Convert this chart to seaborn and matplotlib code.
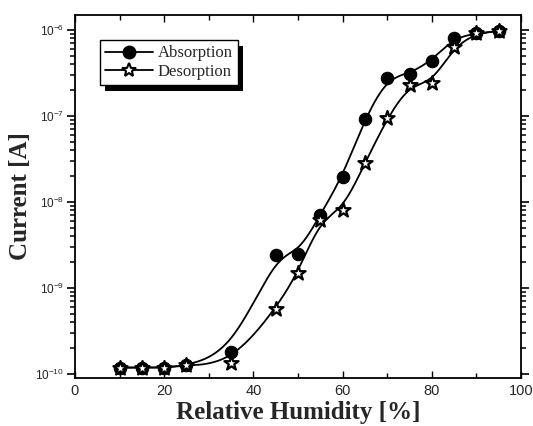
import numpy as np
import matplotlib
matplotlib.use("Agg")
import matplotlib.pyplot as plt
from matplotlib.lines import Line2D
from matplotlib.patches import Rectangle
from matplotlib.transforms import IdentityTransform
from matplotlib.ticker import FixedLocator, NullFormatter, MultipleLocator
import seaborn as sns
import pandas as pd

# Relative humidity steps [%]
humidity = [10, 15, 20, 25, 35, 45, 50, 55, 60, 65, 70, 75, 80, 85, 90, 95]
# Measured current [A]
absorption = [1.18e-10, 1.18e-10, 1.18e-10, 1.25e-10, 1.8e-10, 2.4e-9, 2.5e-9, 7.1e-9,
              1.97e-8, 9.3e-8, 2.75e-7, 3.1e-7, 4.4e-7, 8.1e-7, 9.1e-7, 9.7e-7]
desorption = [1.18e-10, 1.18e-10, 1.18e-10, 1.25e-10, 1.33e-10, 5.7e-10, 1.5e-9, 6.2e-9,
              8.1e-9, 2.8e-8, 9.4e-8, 2.3e-7, 2.4e-7, 6.4e-7, 9.1e-7, 9.7e-7]
series_names = ["Absorption", "Desorption"]


def bspline(x, y, n=60):
    """Uniform cubic B-spline using the points as control points (log-y space)."""
    px = np.concatenate([[x[0]] * 2, x, [x[-1]] * 2]).astype(float)
    py = np.concatenate([[y[0]] * 2, y, [y[-1]] * 2]).astype(float)
    M = np.array([[-1, 3, -3, 1], [3, -6, 3, 0], [-3, 0, 3, 0], [1, 4, 1, 0]]) / 6.0
    t = np.linspace(0, 1, n, endpoint=False)
    T = np.vstack([t ** 3, t ** 2, t, np.ones_like(t)]).T
    xs, ys = [], []
    for i in range(len(px) - 3):
        G = np.vstack([px[i:i + 4], py[i:i + 4]]).T
        seg = T @ M @ G
        xs.append(seg[:, 0])
        ys.append(seg[:, 1])
    xs.append([px[-1]])
    ys.append([py[-1]])
    return np.concatenate(xs), np.concatenate(ys)


sns.set_style("ticks")
plt.rcParams["font.family"] = ["Liberation Sans", "DejaVu Sans"]
plt.rcParams["mathtext.fontset"] = "custom"
plt.rcParams["mathtext.rm"] = "Liberation Sans"
plt.rcParams["ytick.minor.visible"] = True
plt.rcParams["xtick.minor.visible"] = True

fig = plt.figure(figsize=(5.33, 4.26), dpi=100)
ax = fig.add_axes([0.1407, 0.1138, 0.8368, 0.8510])

markers = {"Absorption": dict(marker="o", s=80, color="black", edgecolor="black", linewidth=0.8),
           "Desorption": dict(marker="*", s=115, color="white", edgecolor="black", linewidth=1.6)}

for name, vals in zip(series_names, [absorption, desorption]):
    sx, sy = bspline(np.array(humidity), np.log10(vals))
    curve = pd.DataFrame({"x": sx, "y": 10 ** sy})
    sns.lineplot(data=curve, x="x", y="y", ax=ax, color="black", lw=1.3,
                 sort=False, estimator=None, zorder=2)

for name, vals in zip(series_names, [absorption, desorption]):
    pts = pd.DataFrame({"x": humidity, "y": vals})
    sns.scatterplot(data=pts, x="x", y="y", ax=ax, zorder=3, **markers[name])

ax.set_yscale("log")
ax.set_xlim(0, 100)
ax.set_ylim(0.905e-10, 1.49e-6)

decades = np.arange(-10, -5)
ax.xaxis.set_major_locator(MultipleLocator(20))
ax.xaxis.set_minor_locator(MultipleLocator(10))
ax.yaxis.set_major_locator(FixedLocator(10.0 ** decades))
ax.yaxis.set_minor_locator(FixedLocator([k * 10.0 ** d for d in decades for k in range(2, 10)]))
ax.yaxis.set_minor_formatter(NullFormatter())

ax.tick_params(axis="x", which="both", direction="in", top=True, bottom=True,
               labelsize=10.5, pad=5, color="black")
ax.tick_params(axis="x", which="major", length=5, width=1)
ax.tick_params(axis="x", which="minor", length=3.5, width=1)
ax.tick_params(axis="y", which="both", direction="out", left=True, right=True,
               labelsize=8.5, pad=2, color="black")
ax.tick_params(axis="y", which="major", length=6, width=1.2)
ax.tick_params(axis="y", which="minor", length=3.5, width=1.1)

for sp in ax.spines.values():
    sp.set_linewidth(1.3)
    sp.set_color("black")

ax.set_xlabel("Relative Humidity [%]", fontsize=18, fontweight="bold",
              family="Liberation Serif", labelpad=2)
ax.set_ylabel("Current [A]", fontsize=18, fontweight="bold",
              family="Liberation Serif", labelpad=2)

handles = [
    Line2D([], [], color="black", lw=1.3, marker="o", markersize=9,
           markerfacecolor="black", markeredgecolor="black"),
    Line2D([], [], color="black", lw=1.3, marker="*", markersize=10,
           markerfacecolor="white", markeredgecolor="black", markeredgewidth=1.5),
]
leg = ax.legend(handles, series_names, loc="upper left", bbox_to_anchor=(0.055, 0.93),
                prop={"family": "Liberation Serif", "size": 12}, frameon=True,
                fancybox=False, edgecolor="black", framealpha=1, handlelength=2.9,
                handletextpad=0.3, borderpad=0.3, labelspacing=0.15, borderaxespad=0)
leg.get_frame().set_linewidth(1.0)

fig.canvas.draw()
bb = leg.get_window_extent()
shadow = Rectangle((bb.x0 + 5, bb.y0 - 6), bb.width, bb.height, transform=IdentityTransform(),
                   facecolor="black", edgecolor="none", zorder=4.9)
ax.add_artist(shadow)

fig.savefig("out.png", dpi=100, facecolor="white")
